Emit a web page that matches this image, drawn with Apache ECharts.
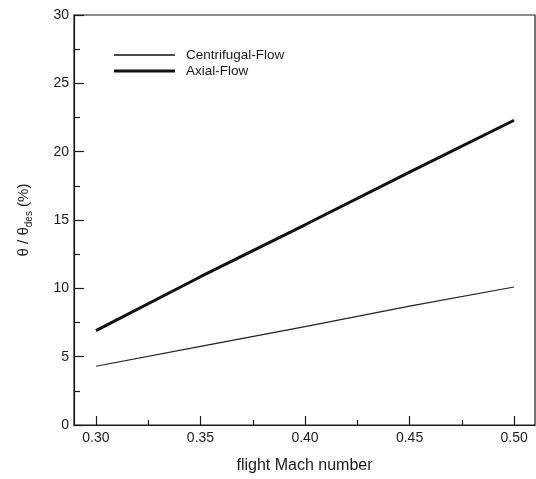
<!DOCTYPE html>
<html>
<head>
<meta charset="utf-8">
<script src="https://cdn.jsdelivr.net/npm/echarts@6/dist/echarts.min.js"></script>
<style>html,body{margin:0;padding:0;background:#fff;}#c{width:536px;height:479px;}</style>
</head>
<body>
<div id="c"></div>
<script>
// ---- data ----
const machNumbers = [0.30, 0.35, 0.40, 0.45, 0.50];
const centrifugalFlow = [4.3, 5.75, 7.2, 8.7, 10.1];
const axialFlow = [6.9, 10.85, 14.65, 18.5, 22.3];
const xMajorTicks = [0.30, 0.35, 0.40, 0.45, 0.50];
const xMinorTicks = [0.325, 0.375, 0.425, 0.475];
const seriesNames = ['Centrifugal-Flow', 'Axial-Flow'];
const xAxisTitle = 'flight Mach number';

const FONT = '"Liberation Sans", Arial, Helvetica, sans-serif';
const INK = '#1a1a1a';

// legend line icons: thin horizontal bar inside a 61x14 box (corner dots fix the bounds)
function lineIcon(h) {
  const y0 = 7 - h / 2, y1 = 7 + h / 2;
  return 'path://M0,0 L0.01,0 L0.01,0.01 Z M0,' + y0 + ' L61,' + y0 + ' L61,' + y1 + ' L0,' + y1 + ' Z M60.99,13.99 L61,13.99 L61,14 Z';
}

const chart = echarts.init(document.getElementById('c'), null, {renderer: 'canvas'});

function pairs(xs, ys) { return xs.map((x, i) => [x, ys[i]]); }

chart.setOption({
  animation: false,
  backgroundColor: '#fff',
  grid: {
    left: 74, right: 1, top: 15, bottom: 50,
    show: true, borderColor: INK, borderWidth: 1.2, backgroundColor: 'transparent'
  },
  legend: {
    orient: 'vertical',
    left: 114, top: 48, padding: 0,
    itemWidth: 61, itemHeight: 14, itemGap: 2,
    data: [
      {name: seriesNames[0], icon: lineIcon(1.3)},
      {name: seriesNames[1], icon: lineIcon(3)}
    ],
    itemStyle: {color: '#111'},
    textStyle: {fontFamily: FONT, fontSize: 13.5, color: INK, padding: [0, 0, 0, 6]}
  },
  xAxis: [{
    type: 'value', min: 0.2895, max: 0.51,
    name: xAxisTitle, nameLocation: 'middle', nameGap: 33,
    nameTextStyle: {fontFamily: FONT, fontSize: 16, color: INK},
    axisLine: {show: true, lineStyle: {color: INK, width: 1.2}},
    splitLine: {show: false},
    axisTick: {show: true, inside: true, length: 9, customValues: xMajorTicks, lineStyle: {color: INK, width: 1.2}},
    axisLabel: {customValues: xMajorTicks, margin: 6, fontFamily: FONT, fontSize: 14, color: INK,
      formatter: v => v.toFixed(2)}
  }, {
    type: 'value', min: 0.2895, max: 0.51, position: 'bottom',
    axisLine: {show: false},
    splitLine: {show: false},
    axisTick: {show: true, inside: true, length: 5, customValues: xMinorTicks, lineStyle: {color: INK, width: 1.2}},
    axisLabel: {show: false, customValues: xMinorTicks}
  }],
  yAxis: {
    type: 'value', min: 0, max: 30, interval: 5,
    name: '{a|θ / θ}{s|des}{a| (%)}', nameLocation: 'middle', nameGap: 40, nameRotate: 90,
    nameTextStyle: {
      fontFamily: FONT, color: INK,
      rich: {
        a: {fontFamily: FONT, fontSize: 15, color: INK, lineHeight: 20},
        s: {fontFamily: FONT, fontSize: 10, color: INK, lineHeight: 20, verticalAlign: 'bottom', padding: [6, 0, 0, 0]}
      }
    },
    axisLine: {show: true, lineStyle: {color: INK, width: 1.2}},
    splitLine: {show: false},
    axisTick: {show: true, inside: true, length: 10, lineStyle: {color: INK, width: 1.2}},
    minorTick: {show: true, splitNumber: 2, length: 6, lineStyle: {color: INK, width: 1.2}},
    minorSplitLine: {show: false},
    axisLabel: {margin: 5, fontFamily: FONT, fontSize: 14, color: INK}
  },
  series: [{
    name: seriesNames[0], type: 'line', xAxisIndex: 0,
    data: pairs(machNumbers, centrifugalFlow),
    symbol: 'none', lineStyle: {color: '#222', width: 1.2}, itemStyle: {color: '#222'}
  }, {
    name: seriesNames[1], type: 'line', xAxisIndex: 0,
    data: pairs(machNumbers, axialFlow),
    symbol: 'none', lineStyle: {color: '#111', width: 3}, itemStyle: {color: '#111'}
  }]
});
</script>
</body>
</html>
